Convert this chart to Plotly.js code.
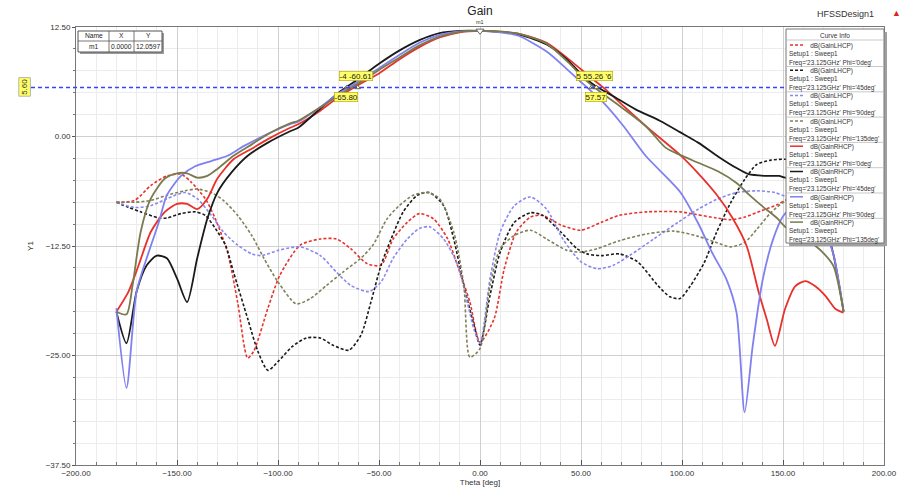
<!DOCTYPE html>
<html><head><meta charset="utf-8">
<script src="https://cdn.plot.ly/plotly-3.0.1.min.js"></script>
<style>html,body{margin:0;padding:0;background:#fff}#chart{width:910px;height:489px}</style>
</head><body><div id="chart"></div>
<script>
// ---- data ----
const thetaLHCP0 = [-180,-171,-163,-155,-148,-143,-136,-131,-125,-120,-115,-112,-105,-99,-89,-79,-71,-64,-56,-49,-43,-36,-30,-23,-16,-10,-5,0,7,12,18,25,31,40,50,60,69,83,99,107,117,124,131,139,147,152,160,170,180];
const gainLHCP0  = [-7.5,-7.3,-5.6,-4.5,-4.3,-5.2,-7.1,-9.4,-13.2,-18.9,-25.3,-24.5,-19.6,-15.8,-12.4,-11.7,-11.7,-12.8,-14.5,-14.7,-11.7,-9.8,-8.8,-9.4,-11.7,-15.5,-18.9,-23.5,-20.8,-15.1,-10.9,-9.2,-9.0,-10.1,-10.7,-9.8,-9.0,-8.6,-8.6,-8.9,-9.3,-9.5,-9.2,-8.5,-7.8,-7.2,-7.0,-7.2,-7.5];

const thetaLHCP45 = [-180,-174,-168,-159,-155,-148,-141,-136,-131,-126,-122,-115,-110,-105,-100,-93,-86,-79,-73,-65,-59,-54,-49,-44,-38,-31,-25,-18,-13,-8,-3,0,5,10,17,25,31,40,48,53,60,69,78,88,94,99,104,111,117,124,131,137,144,151,160,170,180];
const gainLHCP45  = [-7.5,-8.1,-8.6,-9.3,-9.3,-8.8,-8.6,-9.0,-10.5,-12.4,-15.5,-20.8,-24.5,-26.7,-25.7,-24.0,-23.0,-23.0,-23.8,-24.4,-22.7,-18.9,-14.7,-11.7,-8.6,-6.7,-6.4,-7.9,-11.7,-17.0,-21.5,-23.8,-18.1,-13.2,-9.8,-8.7,-9.0,-10.9,-12.8,-13.4,-13.6,-13.4,-14.3,-17.0,-18.3,-18.5,-17.1,-14.4,-11.0,-7.6,-4.9,-3.2,-2.7,-2.6,-3.0,-4.5,-7.5];

const thetaLHCP90 = [-180,-171,-163,-155,-146,-140,-133,-127,-120,-113,-108,-100,-89,-79,-71,-64,-55,-49,-43,-36,-30,-25,-18,-11,-6,-3,0,5,10,17,25,33,41,50,58,66,74,86,98,108,117,127,137,146,151,160,170,180];
const gainLHCP90  = [-7.5,-8.1,-7.9,-7.1,-6.4,-7.1,-9.0,-10.9,-12.4,-13.4,-13.6,-13.0,-12.6,-13.6,-15.5,-17.0,-17.7,-16.6,-13.9,-11.7,-10.5,-10.3,-11.7,-14.7,-19.2,-22.0,-23.6,-16.2,-10.9,-7.9,-6.9,-8.3,-11.7,-14.3,-15.1,-14.7,-13.6,-11.7,-9.8,-8.3,-7.2,-6.4,-6.2,-6.4,-6.8,-7.0,-7.2,-7.5];

const thetaLHCP135 = [-180,-171,-163,-155,-146,-140,-133,-127,-120,-113,-107,-100,-91,-84,-76,-68,-59,-53,-46,-40,-33,-26,-20,-13,-8,-5,0,5,10,17,25,33,43,50,58,69,83,96,108,117,124,131,137,144,151,160,170,180];
const gainLHCP135  = [-7.5,-7.5,-7.3,-6.7,-6.2,-6.0,-6.4,-7.3,-9.0,-11.3,-13.9,-16.6,-19.1,-18.5,-17.0,-15.5,-13.9,-12.4,-9.4,-7.9,-6.7,-6.4,-7.1,-10.9,-17.0,-25.2,-24.2,-17.0,-12.8,-11.3,-10.7,-11.7,-13.0,-13.2,-12.8,-11.9,-11.1,-10.8,-11.4,-12.1,-12.6,-12.1,-10.6,-8.7,-7.4,-7.0,-7.2,-7.5];

const thetaRHCP0 = [-180,-174,-169,-163,-156,-150,-145,-140,-135,-130,-122,-113,-105,-94,-90,-80,-70,-60,-50,-40,-30,-20,-10,0,10,20,33,44,54,61,71,82,99,108,117,125,132,138,142,146,151,156,161,166,171,176,180];
const gainRHCP0  = [-20,-17.7,-14.7,-10.9,-8.6,-7.7,-7.7,-8.3,-7.1,-4.8,-2.6,-1.4,-0.3,1.0,1.4,2.8,4.5,5.9,7.2,8.8,10.2,11.3,11.9,12.06,11.95,11.7,10.7,8.8,6.9,5.6,3.5,1.2,-2.1,-4.2,-6.6,-9.3,-12.5,-17.8,-20.9,-23.9,-19.7,-17.1,-16.5,-17.1,-18.2,-19.7,-20.1];

const thetaRHCP45 = [-180,-175,-170,-165,-160,-155,-150,-145,-140,-135,-130,-123,-115,-105,-94,-90,-80,-70,-60,-50,-40,-30,-20,-10,0,10,20,33,43,52,57,66,77,89,99,108,118,127,133,142,148,151,160,165,170,175,180];
const gainRHCP45  = [-20,-23.6,-17.7,-14.7,-13.6,-13.9,-16.2,-18.9,-13.9,-9.4,-6.4,-4.1,-2.2,-0.7,0.6,1.0,3.0,5.0,6.6,8.3,9.8,11.0,11.8,12.05,12.06,11.95,11.6,10.5,8.8,6.7,5.8,4.6,3.1,1.8,0.5,-0.7,-2.3,-3.6,-4.3,-4.5,-4.5,-4.7,-5.0,-6.5,-9.5,-13.5,-20];

const thetaRHCP90 = [-180,-175,-170,-164,-159,-155,-148,-141,-133,-125,-117,-105,-94,-90,-80,-70,-60,-50,-40,-30,-20,-10,0,10,19,33,43,51,61,71,82,99,108,115,122,127,131,135,140,145,150,155,160,165,170,175,180];
const gainRHCP90  = [-19.6,-28.7,-17.7,-13.2,-9.8,-6.7,-4.5,-3.4,-2.8,-2.2,-1.1,0.3,1.4,1.7,3.2,4.9,6.3,7.8,9.3,10.7,11.6,12.0,12.06,11.9,11.5,9.7,7.7,6.0,3.9,1.2,-2.2,-6.3,-9.9,-13.3,-16.3,-20.1,-31.5,-23.9,-16.3,-11.8,-9.1,-8.0,-7.8,-8.5,-10.5,-13.5,-20];

const thetaRHCP135 = [-180,-175,-172,-168,-163,-156,-150,-145,-140,-135,-130,-122,-113,-104,-94,-90,-80,-70,-60,-50,-40,-30,-20,-10,0,10,20,33,44,52,59,69,82,92,99,108,118,127,133,140,147,151,160,165,170,175,180];
const gainRHCP135  = [-20,-20.3,-17,-10.9,-7.1,-4.8,-4.2,-4.2,-4.7,-4.5,-3.7,-2.2,-0.9,0.4,1.5,1.8,3.2,4.7,6.1,7.6,9.0,10.4,11.4,11.95,12.06,12.0,11.7,10.6,8.4,6.5,5.2,3.5,1.2,-1.3,-2.1,-3.0,-4.0,-5.3,-6.6,-8.0,-9.3,-10.3,-11.5,-12.3,-13.3,-14.8,-20];

const seriesNames = ["dB(GainLHCP)","dB(GainLHCP)","dB(GainLHCP)","dB(GainLHCP)","dB(GainRHCP)","dB(GainRHCP)","dB(GainRHCP)","dB(GainRHCP)"];
const phiLabels = ["0deg","45deg","90deg","135deg","0deg","45deg","90deg","135deg"];
const markerX = [0];
const markerY = [12.0597];
const refLevel = 5.60;
const crossX = [-60.61, -65.80, 55.26, 57.57];

// ---- styles ----
const colors = ["#e8312b","#1a1a1a","#8888ee","#80805a","#e8312b","#1a1a1a","#8080f0","#7a7a4e"];
const dashes = ["3px,2px","3px,2px","3px,2px","3px,2px","solid","solid","solid","solid"];
const thetas = [thetaLHCP0,thetaLHCP45,thetaLHCP90,thetaLHCP135,thetaRHCP0,thetaRHCP45,thetaRHCP90,thetaRHCP135];
const gains = [gainLHCP0,gainLHCP45,gainLHCP90,gainLHCP135,gainRHCP0,gainRHCP45,gainRHCP90,gainRHCP135];

const traces = thetas.map((t,i)=>({
  x:t, y:gains[i], type:'scatter', mode:'lines',
  name: seriesNames[i]+" Phi='"+phiLabels[i]+"'",
  line:{color:colors[i], width: i<4?1.6:1.8, dash:dashes[i], shape:'spline', smoothing:0.7},
  showlegend:false, hoverinfo:'skip'
}));
traces.push({x:markerX, y:markerY, type:'scatter', mode:'markers', showlegend:false,
  marker:{symbol:'triangle-down', size:7, color:'#ffffff', line:{color:'#666', width:1}}, cliponaxis:false});
traces.push({x:crossX, y:crossX.map(()=>refLevel), type:'scatter', mode:'markers', showlegend:false,
  marker:{symbol:'triangle-up', size:5, color:'#ffff80', line:{color:'#444', width:0.8}}, cliponaxis:false});

// pixel helpers for decorations (plot area 76..884 x 27..465)
const L=76, R=884, T=27, B=465;
const px = v => (v-L)/(R-L);
const py = v => (B-v)/(B-T);

const shapes = [];
const annotations = [];
const F = 'Liberation Sans, Arial, sans-serif';
const ann = (o) => annotations.push(Object.assign({xref:'paper', yref:'paper', showarrow:false, xanchor:'center', yanchor:'middle'}, o));

// reference line 5.60
shapes.push({type:'line', xref:'paper', yref:'y', x0:px(31), x1:1, y0:refLevel, y1:refLevel,
  line:{color:'#3344ff', width:1.5, dash:'4px,3px'}, layer:'above'});
ann({yref:'y', x:px(25), y:refLevel, text:'5.60', textangle:-90,
  font:{family:F, size:8, color:'#333'}, bgcolor:'#ffff66', bordercolor:'#888', borderwidth:0.6, borderpad:1});

// marker label m1
ann({xref:'x', x:0, y:py(22), text:'m1', font:{family:F,size:5.5,color:'#333'}});

// crossing labels
const yLab = (txt, cx, cy) => ann({x:px(cx), y:py(cy), text:txt,
  font:{family:F,size:8,color:'#222'}, bgcolor:'#ffff66', bordercolor:'#b0a000', borderwidth:0.6, borderpad:0});
yLab('-4 -60.61', 356, 76);
yLab('-65.80', 346, 97);
yLab('5 55.26 \'6', 594, 76);
yLab('57.57', 596, 97);

// marker table
shapes.push({type:'rect', xref:'paper', yref:'paper', x0:px(80), x1:px(164), y0:py(33), y1:py(54), fillcolor:'#9a9a9a', line:{width:0}, layer:'above'});
shapes.push({type:'rect', xref:'paper', yref:'paper', x0:px(78), x1:px(162), y0:py(31), y1:py(52), fillcolor:'#ffffff', line:{color:'#555', width:1}, layer:'above'});
shapes.push({type:'line', xref:'paper', yref:'paper', x0:px(78), x1:px(162), y0:py(41), y1:py(41), line:{color:'#555', width:0.8}, layer:'above'});
[109,134].forEach(v=>shapes.push({type:'line', xref:'paper', yref:'paper', x0:px(v), x1:px(v), y0:py(31), y1:py(52), line:{color:'#555', width:0.8}, layer:'above'}));
const tcell=(t,cx,cy)=>ann({x:px(cx),y:py(cy),text:t,font:{family:F,size:6.7,color:'#222'}});
tcell('Name',93.5,36); tcell('X',121.5,36); tcell('Y',148,36);
tcell('m1',93.5,46.5); tcell('0.0000',121.5,46.5); tcell('12.0597',148,46.5);

// legend (Curve Info)
const LX0=786, LX1=884, LY0=29, LY1=243;
shapes.push({type:'rect', xref:'paper', yref:'paper', x0:px(LX0+3), x1:px(LX1+3), y0:py(LY0+3), y1:py(LY1+3), fillcolor:'#a0a0a0', line:{width:0}, layer:'above'});
shapes.push({type:'rect', xref:'paper', yref:'paper', x0:px(LX0), x1:px(LX1), y0:py(LY0), y1:py(LY1), fillcolor:'#ffffff', line:{color:'#777', width:1}, layer:'above'});
ann({x:px(835),y:py(35),text:'Curve Info',font:{family:F,size:6.5,color:'#333'}});
shapes.push({type:'line', xref:'paper', yref:'paper', x0:px(LX0), x1:px(LX1), y0:py(40), y1:py(40), line:{color:'#bbb', width:0.8}, layer:'above'});
const pad = '\u00A0'.repeat(12);
for(let i=0;i<8;i++){
  const y0 = 45 + 25.3*i;
  shapes.push({type:'line', xref:'paper', yref:'paper', x0:px(790), x1:px(803), y0:py(y0), y1:py(y0),
    line:{color:colors[i], width:1.5, dash: i<4?'3px,2px':'solid'}, layer:'above'});
  ann({x:px(788), y:py(y0-4.3), xanchor:'left', yanchor:'top', align:'left',
    text: pad + seriesNames[i] + "<br>Setup1 : Sweep1<br>Freq='23.125GHz' Phi='" + phiLabels[i] + "'",
    font:{family:F,size:6.4,color:'#333'}, borderpad:0});
  if(i<7) shapes.push({type:'line', xref:'paper', yref:'paper', x0:px(LX0), x1:px(LX1), y0:py(y0+21.5), y1:py(y0+21.5), line:{color:'#bbb', width:0.8}, layer:'above'});
}

// header texts
ann({x:px(845),y:py(14),text:'HFSSDesign1',font:{family:F,size:9,color:'#333'}});
ann({x:px(896),y:py(13),text:'\u25B2',font:{family:F,size:9,color:'#e02020'}});

const layout = {
  width:910, height:489,
  margin:{l:L, r:910-R, t:T, b:489-B},
  paper_bgcolor:'#ffffff', plot_bgcolor:'#ffffff',
  showlegend:false,
  title:{text:'Gain', font:{family:F, size:12, color:'#222'}, x:0.5, xref:'paper', xanchor:'center', y:1-10.5/489, yref:'container', yanchor:'middle'},
  xaxis:{range:[-200,200], tick0:0, dtick:50, tickformat:'.2f', ticks:'inside', ticklen:5, tickcolor:'#555',
    showgrid:true, gridcolor:'#d0d0d0', gridwidth:1, zeroline:false, showline:true, linecolor:'#777', linewidth:1, mirror:true,
    minor:{dtick:10, showgrid:true, gridcolor:'#ececec', ticks:'inside', ticklen:3, tickcolor:'#777'},
    tickfont:{family:F, size:8, color:'#333'},
    title:{text:'Theta [deg]', font:{family:F, size:8, color:'#333'}, standoff:1}},
  yaxis:{range:[-37.5,12.5], tick0:0, dtick:12.5, tickformat:'.2f', ticks:'outside', ticklen:3, tickcolor:'#555',
    showgrid:true, gridcolor:'#d0d0d0', gridwidth:1, zeroline:false, showline:true, linecolor:'#777', linewidth:1, mirror:true,
    minor:{dtick:2.5, showgrid:true, gridcolor:'#ececec', ticks:'outside', ticklen:2, tickcolor:'#777'},
    tickfont:{family:F, size:8, color:'#333'},
    title:{text:'Y1', font:{family:F, size:8, color:'#333'}, standoff:10}},
  shapes:shapes, annotations:annotations
};
Plotly.newPlot('chart', traces, layout, {staticPlot:true, displayModeBar:false});
</script></body></html>
